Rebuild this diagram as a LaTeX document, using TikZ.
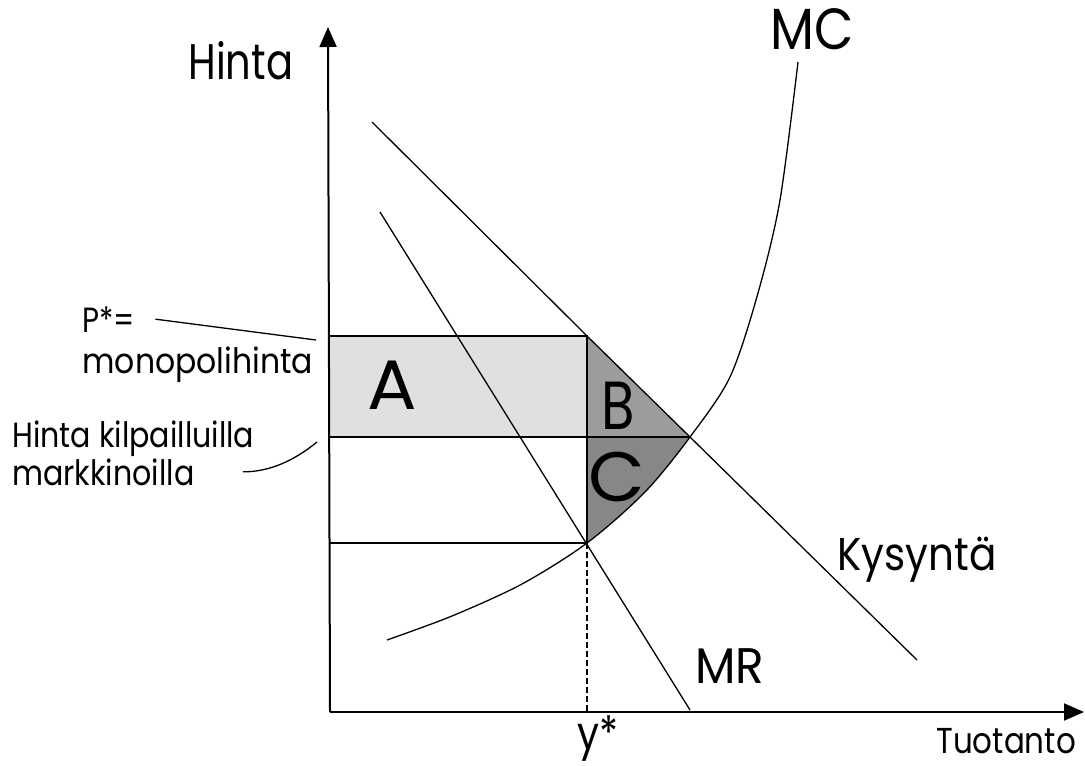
\documentclass[tikz,border=0pt]{standalone}
\usepackage{fontspec}
\usepackage{graphicx}
\setmainfont{Poppins}
\usetikzlibrary{arrows.meta}
\definecolor{shadeA}{gray}{0.88}
\definecolor{shadeB}{gray}{0.61}
\definecolor{shadeC}{gray}{0.53}
\newcommand{\narrowtxt}[2][0.8]{\scalebox{#1}[1]{#2}}
\newcommand{\mcpath}{plot[smooth] coordinates {(387,640) (452,616) (522,584) (587,543) (645,492) (690,437) (730,377) (758,293) (780,200) (798,62)}}
\begin{document}
\begin{tikzpicture}[x=0.5pt,y=-0.5pt,
  curve/.style={line width=0.65pt},
  axis/.style={line width=1pt,-{Triangle[length=10pt,width=8.5pt]}},
  lbl/.style={inner sep=0pt,anchor=base west}]
\useasboundingbox (0,0) rectangle (1085,765);
\coordinate (O) at (330,712);
\coordinate (Pm) at (587,336);
\coordinate (E) at (690,437);
\coordinate (Q) at (587,543);
\fill[shadeA] (330,336) rectangle (Pm |- E);
\fill[shadeB] (Pm) -- (E) -- (Pm |- E) -- cycle;
\begin{scope}
\clip (Pm |- E) rectangle (700,545);
\fill[shadeC] \mcpath -- (330,62) -- (330,640) -- cycle;
\end{scope}
\draw[curve] (330,336) -- (Pm) -- (Q);
\draw[curve] (330,437) -- (E);
\draw[curve] (330,543) -- (Q);
\draw[curve] (372,122) -- (Pm) -- (E) -- (917,660);
\draw[curve] (380,212) -- (690,710);
\draw[curve] \mcpath;
\draw[line width=0.8pt,dash pattern=on 3pt off 1.5pt] (Q) -- (O -| Q);
\draw[axis] (O) -- (328,27);
\draw[axis] (O) -- (1084,712);
\node[lbl,font=\fontsize{25}{30}\selectfont] (hinta) at (188,80) {\narrowtxt{Hinta}};
\node[lbl,font=\fontsize{29}{34}\selectfont] (mc) at (770,50) {\narrowtxt[0.88]{MC}};
\node[lbl,font=\fontsize{23}{28}\selectfont] (kysynta) at (837,570) {\narrowtxt[0.88]{Kysyntä}};
\node[lbl,font=\fontsize{25}{30}\selectfont] (mr) at (695,683) {\narrowtxt[0.94]{MR}};
\node[lbl,font=\fontsize{23}{28}\selectfont] (ystar) at (577,749) {\narrowtxt[0.85]{y*}};
\node[lbl,font=\fontsize{18}{22}\selectfont] (tuotanto) at (936,753) {\narrowtxt[0.86]{Tuotanto}};
\node[inner sep=0pt,font=\fontsize{35}{40}\selectfont] (a) at (392,385) {\narrowtxt[1.05]{A}};
\node[inner sep=0pt,font=\fontsize{34}{40}\selectfont] (b) at (618,406) {\narrowtxt{B}};
\node[inner sep=0pt,font=\fontsize{35}{40}\selectfont] (c) at (617,477) {\narrowtxt[1.05]{C}};
\node[lbl,font=\fontsize{17.5}{21}\selectfont] (pstar) at (82,332) {\narrowtxt[0.84]{P*=}};
\node[lbl,font=\fontsize{17.5}{21}\selectfont] (mono) at (82,373) {\narrowtxt[0.9]{monopolihinta}};
\node[lbl,font=\fontsize{17.5}{21}\selectfont] (kilp) at (12,447) {\narrowtxt[0.86]{Hinta kilpailluilla}};
\node[lbl,font=\fontsize{17.5}{21}\selectfont] (markk) at (12,485) {\narrowtxt[0.86]{markkinoilla}};
\coordinate (pend) at (316,340);
\coordinate (kend) at (317,442);
\draw[curve] ([xshift=10pt]pstar.east) -- (pend);
\draw[curve] ([xshift=24pt]markk.east) .. controls (270,472) and (295,460) .. (kend);
\end{tikzpicture}
\end{document}
